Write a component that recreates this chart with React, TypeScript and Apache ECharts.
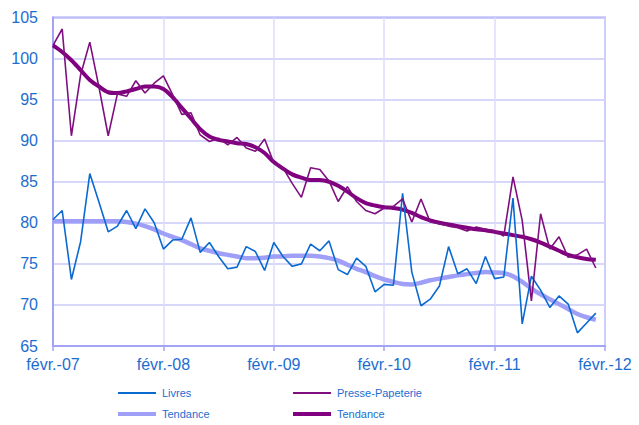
import React, { useEffect, useRef } from "react";
import * as echarts from "echarts";

const monthNames = ["janv.", "févr.", "mars", "avr.", "mai", "juin", "juil.", "août", "sept.", "oct.", "nov.", "déc."];
// Feb-07 .. Feb-12 (61 monthly categories)
const categories: string[] = [];
for (let i = 0; i < 61; i++) {
  const m = (1 + i) % 12;
  const y = 7 + Math.floor((1 + i) / 12);
  categories.push(`${monthNames[m]}-${String(y).padStart(2, "0")}`);
}

const livres = [
  80.4, 81.5, 73.1, 77.7, 86.0, 82.5, 78.9, 79.6, 81.5, 79.3, 81.7, 80.0,
  76.8, 77.9, 78.0, 80.6, 76.4, 77.6, 75.9, 74.4, 74.6, 77.1, 76.5, 74.2,
  77.6, 75.9, 74.7, 75.0, 77.4, 76.6, 77.8, 74.3, 73.7, 75.7, 74.7, 71.6,
  72.5, 72.4, 83.6, 74.0, 69.9, 70.7, 72.3, 77.1, 73.8, 74.4, 72.6, 75.9,
  73.2, 73.4, 83.0, 67.7, 73.5, 71.8, 69.7, 71.1, 70.1, 66.6, 67.8, 69.0,
];
const presse = [
  101.6, 103.6, 90.6, 98.0, 102.0, 96.5, 90.6, 95.7, 95.4, 97.3, 95.8, 97.0,
  97.9, 95.6, 93.2, 93.4, 90.7, 89.9, 90.3, 89.5, 90.4, 89.1, 88.7, 90.2,
  87.3, 86.7, 84.8, 83.1, 86.7, 86.5, 85.1, 82.6, 84.4, 82.6, 81.5, 81.1,
  81.8, 82.0, 82.9, 80.1, 82.9, 80.1, 79.9, 79.6, 79.4, 79.0, 79.5, 79.2,
  79.0, 78.4, 85.6, 80.3, 70.5, 81.1, 76.8, 78.3, 75.8, 76.1, 76.8, 74.5,
];
const tendanceLivres = [
  80.2, 80.2, 80.2, 80.2, 80.2, 80.2, 80.2, 80.2, 80.1, 79.9, 79.6, 79.2,
  78.7, 78.3, 77.9, 77.4, 76.9, 76.6, 76.3, 76.1, 75.9, 75.7, 75.7, 75.75,
  75.9, 75.9, 76.0, 76.0, 76.0, 75.9, 75.7, 75.4, 74.9, 74.4, 74.0, 73.5,
  73.1, 72.8, 72.55, 72.5, 72.7, 73.0, 73.2, 73.4, 73.6, 73.75, 73.9, 74.0,
  73.95, 73.85, 73.5, 72.8, 72.0, 71.3, 70.7, 70.1, 69.5, 68.9, 68.5, 68.2,
];
const tendancePresse = [
  101.6, 100.8, 99.8, 98.6, 97.4, 96.6, 95.9, 95.8, 96.0, 96.3, 96.6, 96.6,
  96.3, 95.3, 94.0, 92.7, 91.4, 90.5, 90.1, 89.9, 89.7, 89.6, 89.2, 88.5,
  87.4, 86.6, 85.9, 85.5, 85.2, 85.2, 85.0, 84.5, 83.8, 83.0, 82.4, 82.1,
  81.9, 81.8, 81.6, 81.2, 80.7, 80.3, 80.0, 79.8, 79.6, 79.4, 79.2, 79.1,
  78.9, 78.7, 78.5, 78.3, 78.0, 77.6, 77.1, 76.6, 76.1, 75.8, 75.6, 75.5,
];

const seriesNames = ["Livres", "Presse-Papeterie", "Tendance", "Tendance"];
const colors = ["#0a6ad0", "#7f0f7f", "#9f9ff7", "#800080"];
const widths = [1.6, 1.6, 4.5, 4];

const labelColor = "#1c6dd0";
const font = "'Liberation Sans', Arial, sans-serif";

export default function App() {
  const ref = useRef<HTMLDivElement>(null);
  useEffect(() => {
    if (!ref.current) return;
    const chart = echarts.init(ref.current, undefined, { renderer: "svg" });
    const dataArr = [livres, presse, tendanceLivres, tendancePresse];
    const order = [2, 3, 0, 1];
    const legendPos = [
      { x: 118, y: 393 },
      { x: 293, y: 393 },
      { x: 118, y: 414 },
      { x: 293, y: 414 },
    ];
    const graphics: any[] = [];
    seriesNames.forEach((n, i) => {
      const p = legendPos[i];
      graphics.push({
        type: "line",
        shape: { x1: p.x, y1: p.y, x2: p.x + 38, y2: p.y },
        style: { stroke: colors[i], lineWidth: i >= 2 ? 4 : 2 },
      });
      graphics.push({
        type: "text",
        x: p.x + 44,
        y: p.y,
        style: {
          text: n,
          fill: labelColor,
          font: `11px ${font}`,
          verticalAlign: "middle",
        },
      });
    });
    chart.setOption({
      animation: false,
      grid: {
        left: 53,
        right: 34,
        top: 17.5,
        bottom: 79,
        show: true,
        borderColor: "#a3a3f7",
        borderWidth: 2,
      },
      xAxis: {
        type: "category",
        data: categories,
        boundaryGap: false,
        axisLine: { lineStyle: { color: "#a3a3f7", width: 2 } },
        axisTick: { interval: 11, length: 5, lineStyle: { color: "#a3a3f7", width: 1.5 } },
        axisLabel: {
          interval: 11,
          color: labelColor,
          fontSize: 16,
          fontFamily: font,
          margin: 10,
        },
        splitLine: { show: true, interval: 11, lineStyle: { color: "#dcdcfb", width: 1.5 } },
      },
      yAxis: {
        type: "value",
        min: 65,
        max: 105,
        interval: 5,
        axisLine: { show: true, lineStyle: { color: "#a3a3f7", width: 2 } },
        axisTick: { show: false },
        axisLabel: {
          color: labelColor,
          fontSize: 16,
          fontFamily: font,
          margin: 15,
        },
        splitLine: { lineStyle: { color: "#cacaf8", width: 1.5 } },
      },
      series: order.map((i) => ({
        name: seriesNames[i],
        type: "line",
        data: dataArr[i],
        showSymbol: false,
        symbol: "none",
        smooth: i >= 2 ? 0.3 : false,
        lineStyle: { color: colors[i], width: widths[i] },
        z: i >= 2 ? 2 : 3,
      })),
      graphic: graphics,
    });
    return () => chart.dispose();
  }, []);
  return (
    <div
      ref={ref}
      style={{ position: "fixed", left: 0, top: 0, width: 639, height: 425, background: "#fff" }}
    />
  );
}
